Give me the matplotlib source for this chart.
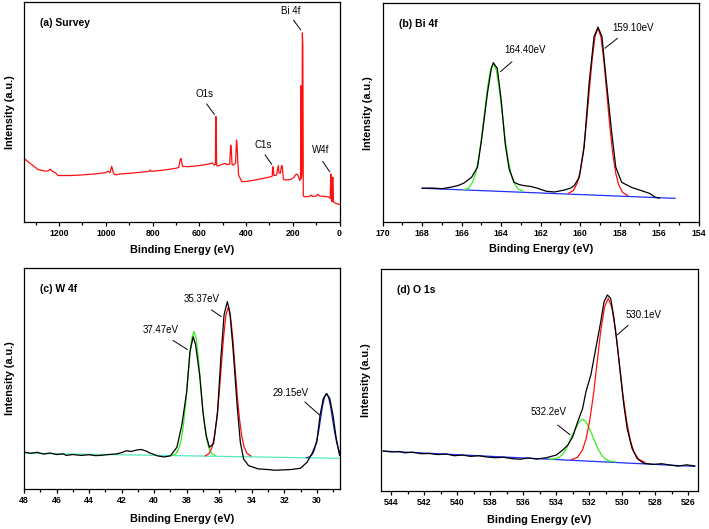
import numpy as np
import matplotlib
matplotlib.use("Agg")
import matplotlib.pyplot as plt
from matplotlib.ticker import MultipleLocator

plt.rcParams["font.family"] = ["Liberation Sans", "DejaVu Sans"]

# ---- (a) survey spectrum (binding energy eV, intensity a.u.)
survey_ev = [1350, 1320, 1290, 1260, 1245, 1238, 1230, 1215, 1205, 1150, 1100, 1050,
             1000, 990, 982, 975, 968, 960, 940, 900, 850, 815, 810, 805, 750, 700,
             688, 682, 678, 672, 650, 600, 560, 545, 535, 531, 530, 528, 526, 520,
             500, 490, 480, 470, 466, 464, 460, 455, 445, 441, 439, 435, 432, 425,
             418, 400, 350, 300, 288, 286, 283, 281, 270, 262, 259, 253, 248, 245,
             240, 230, 210, 195, 185, 178, 170, 167, 165, 163.5, 161, 159, 157, 155,
             150, 130, 120, 115, 100, 93, 85, 60, 45, 40, 37, 35, 33, 30, 28, 26,
             22, 15, 5, 0]
survey_int = [29, 26.5, 24, 23.3, 23.5, 24.2, 23.3, 22.5, 21.3, 21.3, 21.6, 22,
              22.6, 23.3, 22.6, 25.5, 22.5, 21.6, 22, 22.3, 22.8, 23.2, 23.8, 23.2, 23.8, 24.6,
              25, 28.5, 29, 25.5, 25.3, 25.8, 26.5, 27, 26, 26.5, 48, 48, 26, 25.6,
              26.5, 26.8, 26.2, 26.5, 35, 34.5, 26.5, 26, 27, 37.4, 36, 27, 21.5, 20,
              18.5, 18.6, 19.5, 20.6, 21, 25.3, 24.5, 21.3, 21.5, 25.8, 22.4, 22.4, 25.8, 25.5,
              19.5, 19.3, 19.5, 20.5, 22, 21.5, 19, 20, 62, 20, 22, 86, 80, 12,
              11.7, 11.8, 12.4, 11.8, 12, 12.8, 12, 11.8, 11.5, 10.8, 22, 20, 9.4, 20, 20.5, 9.4,
              9, 8.6, 8.4, 8.2]

# ---- (b) Bi 4f
bi_ev = [168, 167.5, 167, 166.6, 166.2, 165.9, 165.5, 165.2, 165.0, 164.85, 164.7, 164.5,
         164.4, 164.2, 164.0, 163.8, 163.6, 163.35, 163.1, 162.85, 162.5, 162.2, 161.7, 161.3,
         160.8, 160.5, 160.3, 160.05, 159.8, 159.55, 159.3, 159.1, 158.9, 158.7, 158.4,
         158.2, 157.9, 157.4, 156.9, 156.5, 156.2, 156.0]
bi_int = [15.6, 15.7, 15.4, 16.0, 16.8, 17.9, 20.6, 25.2, 37.4, 48, 58.8, 70.2,
          72.8, 70.2, 55.7, 35.9, 24.4, 18.3, 17.3, 16.8, 16.4, 15.7, 14.2, 13.9,
          14.8, 15.6, 16.8, 20.6, 34.4, 63.4, 84.7, 89, 84.7, 66.4, 40.5,
          25.2, 18.3, 16.0, 14.5, 13.3, 11.5, 11.1]
bi_base_ev = [168.0, 155.2]
bi_base_int = [15.6, 11.0]
bi_fit1_ev = [165.9, 165.65, 165.45, 165.3, 165.15, 165.0, 164.85, 164.7, 164.55, 164.4,
              164.25, 164.1, 163.95, 163.8, 163.65, 163.5, 163.35, 163.15, 162.9]
bi_fit1_int = [14.9, 15.6, 18.4, 22.4, 29.1, 38.5, 49.8, 61.0, 69.4, 72.5,
               69.4, 60.9, 49.7, 38.2, 28.7, 22.0, 18.0, 15.3, 14.3]
bi_fit2_ev = [160.6, 160.35, 160.15, 160.0, 159.85, 159.7, 159.55, 159.4, 159.25, 159.1,
              158.95, 158.8, 158.65, 158.5, 158.35, 158.2, 158.05, 157.85, 157.6]
bi_fit2_int = [13.3, 14.5, 17.9, 23.1, 31.8, 44.2, 59.1, 73.8, 84.8, 88.5,
               84.5, 73.4, 58.6, 43.7, 31.2, 22.4, 17.1, 13.7, 12.3]

# ---- (c) W 4f
w_ev = [48, 47.6, 47.2, 46.8, 46.4, 46.0, 45.6, 45.4, 45.0, 44.5, 44.0, 43.6, 43.3, 42.8,
        42.3, 42.0, 41.7, 41.4, 41.1, 40.8, 40.5, 40.3, 40.0, 39.8, 39.4, 39.0, 38.6, 38.3,
        38.0, 37.8, 37.6, 37.45, 37.2, 37.0, 36.8, 36.6, 36.35, 36.1, 35.9, 35.7, 35.5,
        35.35, 35.15, 34.9, 34.7, 34.5, 34.2, 33.6, 33.0, 32.6, 32.2, 31.6, 31.0, 30.6,
        30.3, 30.0, 29.8, 29.6, 29.4, 29.2, 29.0, 28.8, 28.6]
w_int = [16.7, 16.2, 16.6, 15.8, 16.3, 15.6, 15.9, 15.2, 15.6, 15.2, 15.5, 15.1, 15.2, 15.6,
         15.9, 16.5, 17.3, 17.0, 17.6, 17.9, 17.2, 16.4, 15.6, 15.0, 14.5, 15.0, 18.9, 28.8,
         43.9, 62.1, 68.9, 65.2, 51.5, 34.8, 24.2, 18.9, 20.5, 34.8, 59.1, 78.8, 84.8,
         80.3, 63.6, 37.9, 21.2, 13.6, 10.6, 9.1, 8.8, 8.5, 8.6, 8.8, 9.4, 12.1,
         15.9, 21.2, 33.3, 40.9, 43.2, 40.9, 33.3, 22.7, 15.2]
w_base_ev = [48.0, 28.6]
w_base_int = [16.2, 13.9]
w_fit1_ev = [38.85, 38.63, 38.46, 38.33, 38.2, 38.07, 37.94, 37.81, 37.68, 37.55,
             37.42, 37.29, 37.16, 37.03, 36.9, 36.77, 36.64, 36.47, 36.25]
w_fit1_int = [15.2, 16.2, 18.7, 22.6, 29.0, 38.1, 49.2, 60.1, 68.3, 71.3,
              68.3, 60.1, 49.2, 38.1, 29.0, 22.6, 18.7, 16.2, 15.2]
w_fit2_ev = [36.85, 36.61, 36.43, 36.29, 36.15, 36.01, 35.87, 35.73, 35.59, 35.45,
             35.31, 35.17, 35.03, 34.89, 34.75, 34.61, 34.47, 34.29, 34.05]
w_fit2_int = [15.0, 16.1, 19.1, 23.8, 31.5, 42.4, 55.6, 68.7, 78.5, 82.1,
              78.5, 68.7, 55.6, 42.4, 31.5, 23.8, 19.1, 16.1, 15.0]
w_fit3_ev = [30.63, 30.43, 30.26, 30.14, 30.02, 29.89, 29.77, 29.65, 29.52, 29.4,
             29.28, 29.15, 29.03, 28.91, 28.78, 28.66, 28.54]
w_fit3_int = [14.1, 14.6, 15.9, 17.9, 21.3, 26.0, 31.7, 37.4, 41.6, 43.2,
              41.6, 37.4, 31.7, 26.0, 21.3, 17.9, 15.9]

# ---- (d) O 1s
o_ev = [544.5, 544.0, 543.5, 543.2, 542.7, 542.2, 541.7, 541.2, 540.7, 540.2, 539.7, 539.2,
        538.7, 538.2, 537.7, 537.2, 536.7, 536.2, 535.7, 535.2, 534.6, 534.0, 533.6, 533.3,
        533.0, 532.7, 532.4, 532.2, 531.9, 531.6, 531.3, 531.1, 530.9, 530.7, 530.5, 530.3,
        530.1, 529.9, 529.7, 529.4, 529.1, 528.7, 528.1, 527.6, 527.1, 526.6, 526.1, 525.6]
o_int = [18.0, 17.6, 17.8, 17.2, 17.5, 16.8, 16.9, 16.4, 16.7, 15.9, 16.2, 15.6,
         15.9, 15.3, 15.0, 15.2, 14.6, 14.3, 14.9, 14.4, 15.0, 16.2, 18.5, 20.7,
         24.5, 31.2, 37.2, 44.7, 52.3, 64.3, 76.3, 85.3, 88.3, 86.8, 77.8, 65.8,
         52.3, 38.7, 28.2, 19.2, 14.7, 12.5, 12.0, 12.3, 11.7, 11.2, 11.8, 11.3]
o_base_ev = [544.5, 525.6]
o_base_int = [18.0, 11.1]
o_fit1_ev = [534.4, 534.06, 533.8, 533.6, 533.4, 533.2, 533.0, 532.8, 532.6, 532.4,
             532.2, 532.0, 531.8, 531.6, 531.4, 531.2, 531.0, 530.74, 530.4]
o_fit1_int = [14.3, 14.5, 15.4, 16.6, 18.9, 22.0, 25.6, 28.5, 31.3, 32.3,
              31.2, 28.4, 24.8, 21.1, 18.0, 15.7, 14.3, 13.4, 13.1]
o_fit2_ev = [533.08, 532.71, 532.41, 532.19, 531.97, 531.74, 531.52, 531.3, 531.07, 530.85,
             530.63, 530.4, 530.18, 529.96, 529.73, 529.51, 529.29, 529.0, 528.62]
o_fit2_int = [14.1, 15.2, 18.5, 23.5, 31.8, 43.6, 58.0, 72.3, 82.9, 86.8,
              82.8, 72.1, 57.8, 43.4, 31.5, 22.9, 17.7, 14.3, 12.9]

RED = "#ff1010"
GREEN = "#33ee22"
BLUE = "#1f2fff"


def style_axis(ax, xlim, major, minor, title):
    ax.set_xlim(*xlim)
    ax.set_ylim(0, 100)
    ax.set_yticks([])
    ax.xaxis.set_major_locator(MultipleLocator(major))
    ax.xaxis.set_minor_locator(MultipleLocator(minor))
    ax.tick_params(axis="x", which="major", direction="out", length=3, width=0.9,
                   labelsize=6.3, pad=2)
    ax.tick_params(axis="x", which="minor", direction="out", length=1.8, width=0.9)
    for lab in ax.get_xticklabels():
        lab.set_fontweight("bold")
    for sp in ax.spines.values():
        sp.set_linewidth(0.9)
    ax.set_xlabel("Binding Energy (eV)", fontsize=7.8, fontweight="bold")
    ax.set_ylabel("Intensity (a.u.)", fontsize=7.8, fontweight="bold")
    ax.text(0.05, 0.905, title, transform=ax.transAxes, fontsize=7.5,
            fontweight="bold", va="center", ha="left")


def note(ax, text, xy, xytext, textpos):
    ax.annotate("", xy=xy, xytext=xytext,
                arrowprops=dict(arrowstyle="-", color="black", lw=0.7))
    ax.text(textpos[0], textpos[1], text, fontsize=7, ha="center", va="center")


fig = plt.figure(figsize=(7.09, 5.29), dpi=100)

# (a)
ax = fig.add_axes([0.0339, 0.5794, 0.445, 0.4168])
ax.plot(survey_ev, survey_int, color=RED, lw=0.9)
style_axis(ax, (1350, 0), 200, 100, "(a) Survey")
ax.yaxis.set_label_coords(-0.028, 0.5)
ax.xaxis.set_label_coords(0.5, -0.1)
note(ax, "Bi 4f", (158.6, 86.3), (204, 92.8), (211, 96))
note(ax, "O1s", (528.5, 48), (575.7, 54.8), (575.7, 58.5))
note(ax, "C1s", (283, 25.3), (325.7, 31.7), (325.7, 35.3))
note(ax, "W4f", (35.6, 22), (78.4, 28.7), (82.7, 33))

# (b)
ax = fig.add_axes([0.5398, 0.5794, 0.4457, 0.415])
ax.plot(bi_base_ev, bi_base_int, color=BLUE, lw=0.9)
ax.plot(bi_fit1_ev, bi_fit1_int, color=GREEN, lw=0.9)
ax.plot(bi_fit2_ev, bi_fit2_int, color=RED, lw=0.9)
ax.plot(bi_ev, bi_int, color="black", lw=0.9)
style_axis(ax, (170, 154), 2, 1, "(b) Bi 4f")
ax.yaxis.set_label_coords(-0.03, 0.5)
ax.xaxis.set_label_coords(0.5, -0.1)
note(ax, "164.40eV", (164.15, 67.9), (163.35, 74.0), (162.8, 78.6))
note(ax, "159.10eV", (158.86, 78.6), (158.0, 84.7), (157.3, 88.5))

# (c)
ax = fig.add_axes([0.0339, 0.0756, 0.445, 0.4178])
ax.plot(w_base_ev, w_base_int, color="#55e8c0", lw=0.9)
ax.plot(w_fit1_ev, w_fit1_int, color=GREEN, lw=0.9)
ax.plot(w_fit2_ev, w_fit2_int, color=RED, lw=0.9)
ax.plot(w_fit3_ev, w_fit3_int, color="#1020c8", lw=0.9)
ax.plot(w_ev, w_int, color="black", lw=0.9)
style_axis(ax, (48, 28.6), 2, 1, "(c) W 4f")
ax.yaxis.set_label_coords(-0.028, 0.5)
ax.xaxis.set_label_coords(0.5, -0.115)
note(ax, "35.37eV", (35.74, 77.3), (36.62, 81.8), (37.1, 86.0))
note(ax, "37.47eV", (37.8, 62.4), (38.99, 67.9), (39.6, 72.0))
note(ax, "29.15eV", (29.69, 32.6), (30.86, 40.2), (31.58, 43.4))

# (d)
ax = fig.add_axes([0.537, 0.0718, 0.4475, 0.4197])
ax.plot(o_base_ev, o_base_int, color=BLUE, lw=0.9)
ax.plot(o_fit1_ev, o_fit1_int, color=GREEN, lw=0.9)
ax.plot(o_fit2_ev, o_fit2_int, color=RED, lw=0.9)
ax.plot(o_ev, o_int, color="black", lw=0.9)
style_axis(ax, (544.65, 525.4), 2, 1, "(d) O 1s")
ax.yaxis.set_label_coords(-0.03, 0.5)
ax.xaxis.set_label_coords(0.5, -0.11)
note(ax, "530.1eV", (530.42, 69.5), (529.51, 75.5), (528.7, 79.3))
note(ax, "532.2eV", (533.04, 24.6), (534.05, 30.5), (534.46, 35.7))

fig.savefig("out.png", dpi=100)
